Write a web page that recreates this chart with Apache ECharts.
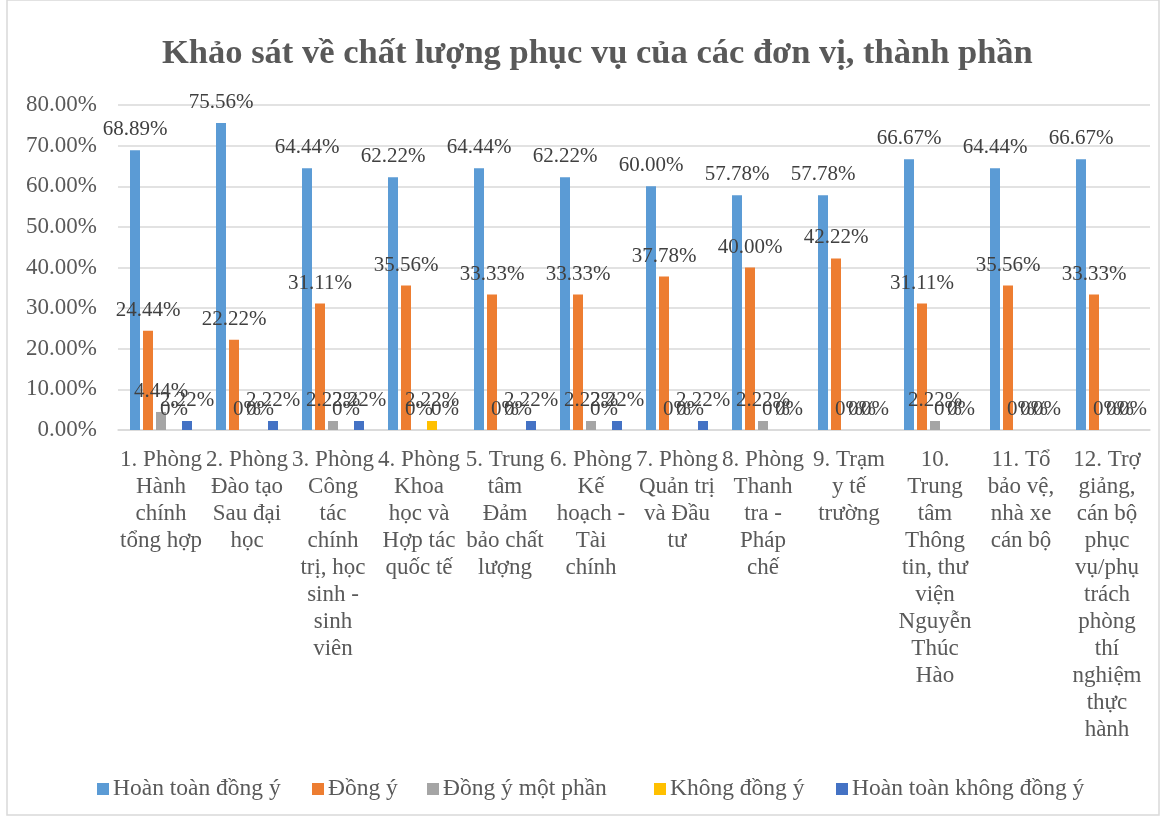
<!DOCTYPE html>
<html>
<head>
<meta charset="utf-8">
<script src="https://cdn.jsdelivr.net/npm/echarts@6/dist/echarts.min.js"></script>
<style>
  html, body { margin: 0; padding: 0; background: #fff; }
  #chart { width: 1166px; height: 816px; }
</style>
</head>
<body>
<div id="chart"></div>
<script>
// danh mục đơn vị
const categories = [
  "1. Phòng Hành chính tổng hợp",
  "2. Phòng Đào tạo Sau đại học",
  "3. Phòng Công tác chính trị, học sinh - sinh viên",
  "4. Phòng Khoa học và Hợp tác quốc tế",
  "5. Trung tâm Đảm bảo chất lượng",
  "6. Phòng Kế hoạch - Tài chính",
  "7. Phòng Quản trị và Đầu tư",
  "8. Phòng Thanh tra - Pháp chế",
  "9. Trạm y tế trường",
  "10. Trung tâm Thông tin, thư viện Nguyễn Thúc Hào",
  "11. Tổ bảo vệ, nhà xe cán bộ",
  "12. Trợ giảng, cán bộ phục vụ/phụ trách phòng thí nghiệm thực hành"
];
const seriesNames = ["Hoàn toàn đồng ý", "Đồng ý", "Đồng ý một phần", "Không đồng ý", "Hoàn toàn không đồng ý"];
const hoanToanDongY = [68.89, 75.56, 64.44, 62.22, 64.44, 62.22, 60.00, 57.78, 57.78, 66.67, 64.44, 66.67];
const dongY = [24.44, 22.22, 31.11, 35.56, 33.33, 33.33, 37.78, 40.00, 42.22, 31.11, 35.56, 33.33];
const dongYMotPhan = [4.44, 0, 2.22, 0, 0, 2.22, 0, 2.22, 0, 2.22, 0, 0];
const khongDongY = [0, 0, 0, 2.22, 0, 0, 0, 0, 0, 0, 0, 0];
const hoanToanKhongDongY = [2.22, 2.22, 2.22, 0, 2.22, 2.22, 2.22, 0, 0, 0, 0, 0];
const yTicks = [0, 10, 20, 30, 40, 50, 60, 70, 80];

const colors = ["#5b9bd5", "#ed7d31", "#a5a5a5", "#ffc000", "#4472c4"];
const serif = "'Liberation Serif', 'DejaVu Serif', serif";
const xLabelSize = 23;
const legendLeft = [97, 312, 427, 654, 836]; // vị trí chú giải như Excel

// xuống dòng theo khoảng trắng (giống Excel), không cắt giữa từ
const measureCtx = document.createElement("canvas").getContext("2d");
function wrapLabel(text, maxW) {
  measureCtx.font = xLabelSize + "px " + serif;
  const words = text.split(" ");
  const lines = [];
  let cur = "";
  words.forEach(function (w) {
    const test = cur ? cur + " " + w : w;
    if (cur && measureCtx.measureText(test).width > maxW) {
      lines.push(cur);
      cur = w;
    } else {
      cur = test;
    }
  });
  if (cur) lines.push(cur);
  return lines.join("\n");
}

const chart = echarts.init(document.getElementById("chart"));

function makeSeries(name, data, color) {
  return {
    name: name,
    type: "bar",
    data: data,
    barWidth: 10,
    barGap: "30%",
    itemStyle: { color: color },
    label: {
      show: true,
      position: "top",
      distance: 10,
      color: "#404040",
      fontFamily: serif,
      fontSize: 21,
      formatter: function (p) {
        return p.value === 0 ? "0%" : p.value.toFixed(2) + "%";
      }
    }
  };
}

const dataList = [hoanToanDongY, dongY, dongYMotPhan, khongDongY, hoanToanKhongDongY];

chart.setOption({
  animation: false,
  title: {
    text: "Khảo sát về chất lượng phục vụ của các đơn vị, thành phần",
    left: 157,
    top: 32,
    textStyle: {
      fontFamily: serif,
      fontSize: 34.5,
      fontWeight: "bold",
      color: "#595959"
    }
  },
  legend: seriesNames.map(function (n, i) {
    return {
      data: [n],
      left: legendLeft[i],
      top: 777,
      padding: 0,
      itemWidth: 12,
      itemHeight: 12,
      icon: "rect",
      textStyle: { fontFamily: serif, fontSize: 23.5, color: "#595959", padding: [0, 0, 0, -1] }
    };
  }),
  grid: { left: 118, right: 16, top: 105, bottom: 386 },
  xAxis: {
    type: "category",
    data: categories,
    axisLine: { lineStyle: { color: "#d9d9d9", width: 1.5 } },
    axisTick: { show: false },
    axisLabel: {
      interval: 0,
      margin: 16,
      lineHeight: 27,
      fontFamily: serif,
      fontSize: xLabelSize,
      color: "#595959",
      align: "center",
      verticalAlign: "top",
      formatter: function (v) { return wrapLabel(v, 82); }
    }
  },
  yAxis: {
    type: "value",
    min: yTicks[0],
    max: yTicks[yTicks.length - 1],
    interval: 10,
    axisLine: { show: false },
    axisTick: { show: false },
    splitLine: { lineStyle: { color: "#d9d9d9", width: 1.5 } },
    axisLabel: {
      margin: 21,
      fontFamily: serif,
      fontSize: 23,
      color: "#595959",
      formatter: function (v) { return v.toFixed(2) + "%"; }
    }
  },
  graphic: [{
    type: "rect",
    shape: { x: 7, y: 0, width: 1152, height: 815 },
    style: { fill: "none", stroke: "#d9d9d9", lineWidth: 1.5 }
  }],
  series: seriesNames.map(function (n, i) { return makeSeries(n, dataList[i], colors[i]); })
});
</script>
</body>
</html>
